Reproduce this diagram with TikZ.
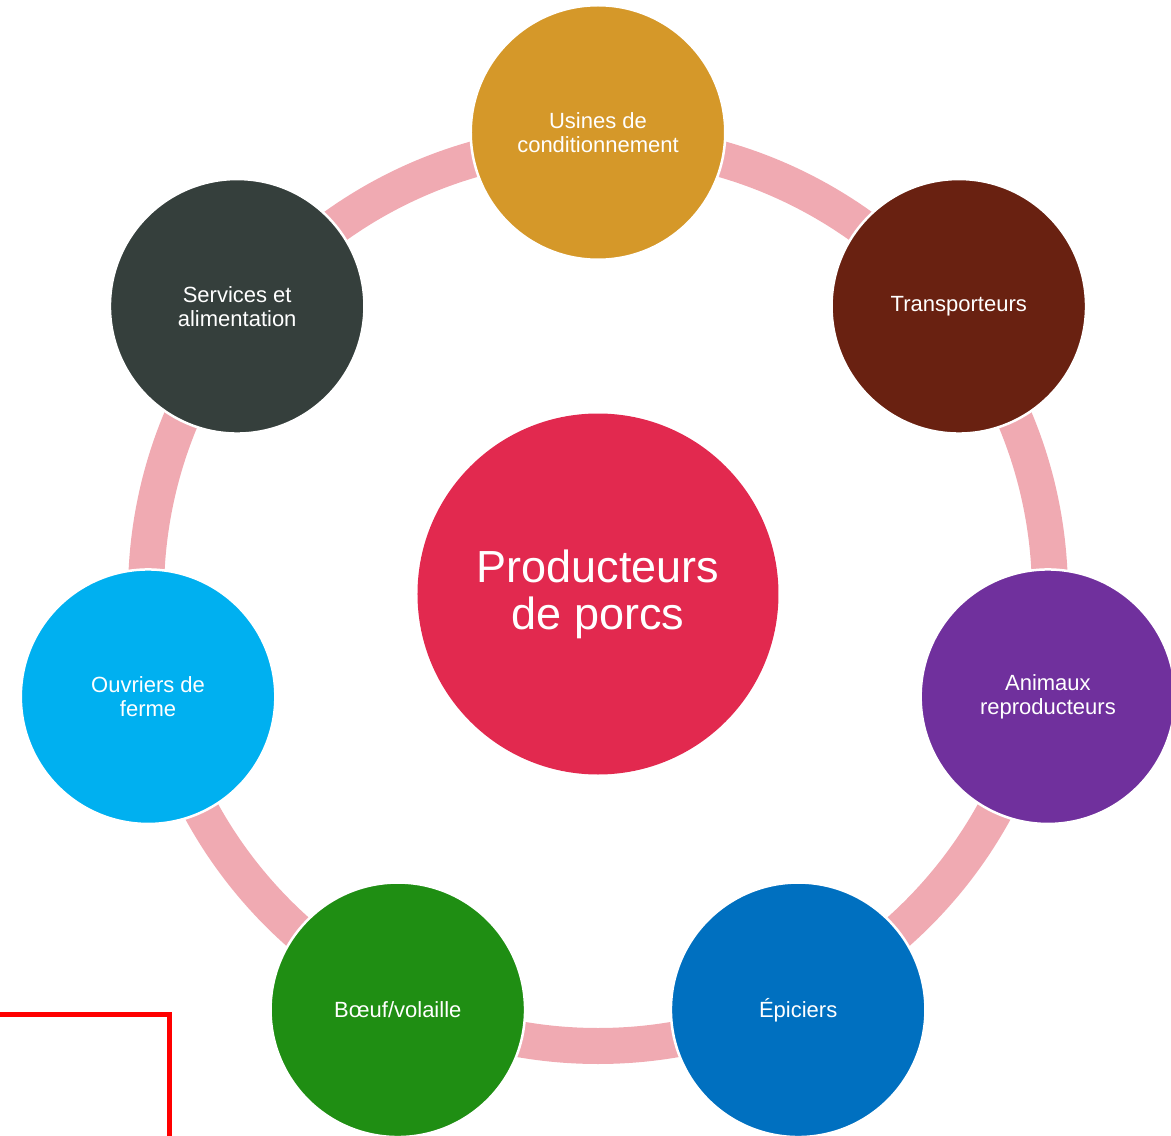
\documentclass[tikz,border=0pt]{standalone}
\usepackage{fontspec}
\setmainfont{Liberation Sans}
\definecolor{cUsines}{RGB}{213,152,41}
\definecolor{cTrans}{RGB}{105,33,17}
\definecolor{cAnim}{RGB}{112,48,157}
\definecolor{cEpic}{RGB}{0,112,192}
\definecolor{cBoeuf}{RGB}{31,142,19}
\definecolor{cOuvr}{RGB}{0,176,240}
\definecolor{cServ}{RGB}{53,63,60}
\definecolor{cCenter}{RGB}{226,41,79}
\definecolor{cRing}{RGB}{240,170,178}
\definecolor{cRed}{RGB}{255,0,0}
\begin{document}
\begin{tikzpicture}[x=1pt,y=1pt,
  outer/.style={circle, minimum size=254.5pt, inner sep=0pt, draw=white, line width=2.5pt,
    text=white, font=\fontsize{22}{24}\selectfont, align=center},
  hub/.style={circle, minimum size=361pt, inner sep=0pt, fill=cCenter,
    text=white, font=\fontsize{45}{47}\selectfont, align=center},
  ring/.style={draw=cRing, line width=36pt},
  marker/.style={draw=cRed, line width=5pt, miter limit=10}]
\useasboundingbox (-598,-542) rectangle (573,594);
\node[hub] (c) at (0,0) {Producteurs\\de porcs};
\draw[ring] (c.center) circle[radius=452pt];
\node[outer, fill=cUsines] (u) at (90:461.5) {Usines de\\conditionnement};
\node[outer, fill=cTrans] (t) at (38.57:461.5) {Transporteurs};
\node[outer, fill=cAnim] (a) at (-12.86:461.5) {Animaux\\reproducteurs};
\node[outer, fill=cEpic] (e) at (-64.29:461.5) {Épiciers};
\node[outer, fill=cBoeuf] (b) at (-115.71:461.5) {Bœuf/volaille};
\node[outer, fill=cOuvr] (o) at (-167.14:461.5) {Ouvriers de\\ferme};
\node[outer, fill=cServ] (s) at (141.43:461.5) {Services et\\alimentation};
\coordinate (r1) at (-605,-420.5);
\coordinate (r2) at (-428,-420.5);
\coordinate (r3) at (-428,-560);
\draw[marker] (r1) -- (r2) -- (r3);
\end{tikzpicture}
\end{document}
